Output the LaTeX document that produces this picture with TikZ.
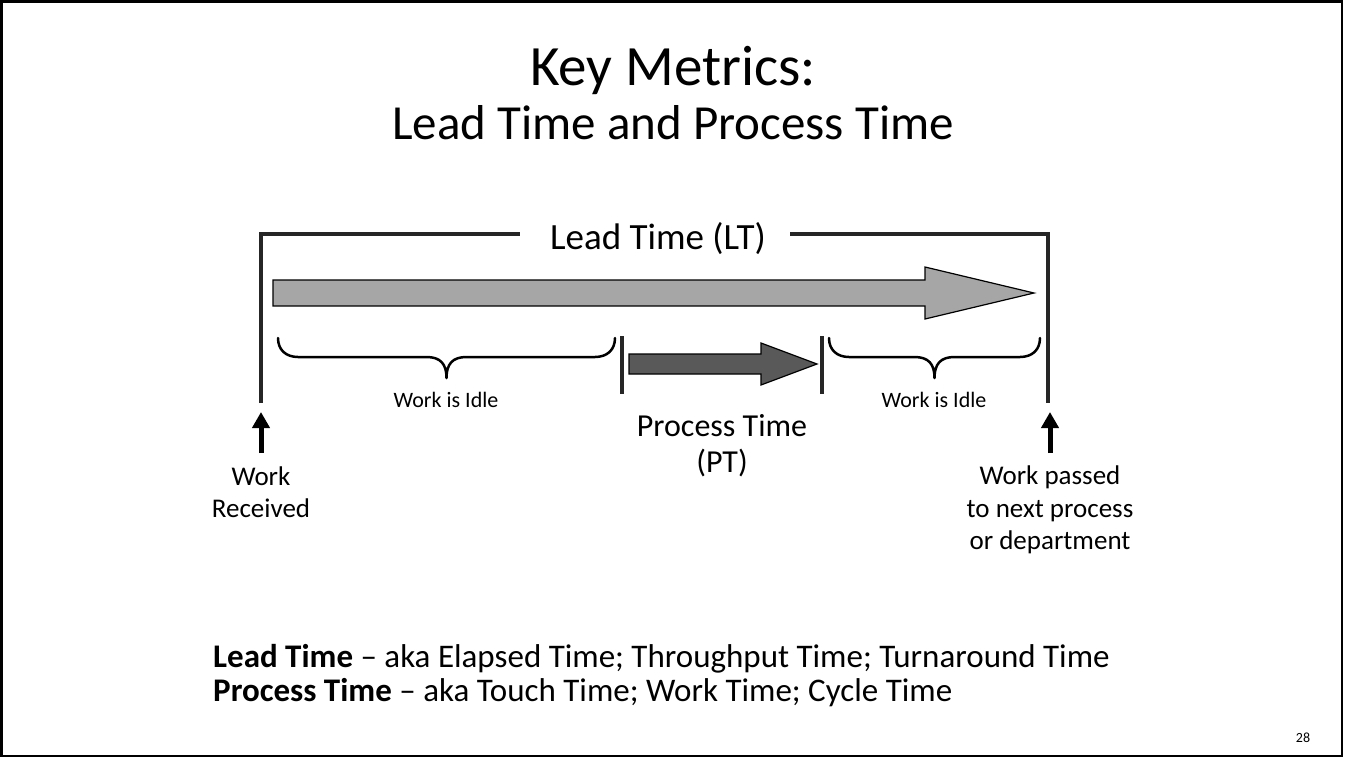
\documentclass[tikz,border=0pt]{standalone}
\usepackage{fontspec}
\setmainfont{Carlito}
\usetikzlibrary{arrows.meta}
\definecolor{barcol}{HTML}{262626}
\definecolor{ltfill}{HTML}{A6A6A6}
\definecolor{ptfill}{HTML}{595959}
\newcommand\fs[1]{\fontsize{#1}{#1}\selectfont}
\newcommand\idlebrace[2]{%
  \draw[brc] (#1,338) .. controls (#1,350) and ({#1+8},357) .. ({#1+20},357)
    -- ({(#1+#2)/2-20},357) .. controls ({(#1+#2)/2-6},357) and ({(#1+#2)/2},364) .. ({(#1+#2)/2},378)
    .. controls ({(#1+#2)/2},364) and ({(#1+#2)/2+6},357) .. ({(#1+#2)/2+20},357)
    -- ({#2-20},357) .. controls ({#2-8},357) and (#2,350) .. (#2,338);}
\begin{document}
\begin{tikzpicture}[x=1pt,y=-1pt,
  bar/.style={line width=4pt, draw=barcol, line join=miter},
  brc/.style={line width=2.5pt, draw=black, line join=round, line cap=round},
  lbl/.style={inner sep=0pt, anchor=base, text=black},
  uparrow/.style={line width=5pt, draw=black, -{Triangle[width=17pt,length=16pt]}},
  bigarrow/.style={line width=1.2pt, draw=black, line join=miter}
]
\useasboundingbox (0,0) rectangle (1347,758);
\draw[line width=2.5pt] (1.5,1.5) rectangle (1342,756);

% titles
\node[lbl, font=\fs{57}] (title) at (673,85) {Key Metrics:};
\node[lbl, font=\fs{49}] (subtitle) at (673,139) {Lead Time and Process Time};

% lead time bracket
\node[lbl, font=\fs{37}] (ltlabel) at (658,249) {Lead Time (LT)};
\draw[bar] (261,403) |- (520,234);
\draw[bar] (790,234) -| (1048,403);

% gray arrow
\draw[bigarrow, fill=ltfill] (273,280) -- (925,280) -- (925,267) -- (1034,293) -- (925,319) -- (925,306) -- (273,306) -- cycle;

% separators
\draw[bar] (622,336) -- (622,394);
\draw[bar] (822,336) -- (822,394);

% process time arrow
\draw[bigarrow, fill=ptfill] (629,354) -- (761,354) -- (761,343) -- (817,364) -- (761,385) -- (761,374) -- (629,374) -- cycle;

% braces
\idlebrace{278}{615}
\idlebrace{829}{1040}
\node[lbl, font=\fs{22}] (idle1) at (446,407) {Work is Idle};
\node[lbl, font=\fs{22}] (idle2) at (934,407) {Work is Idle};

% process time label
\node[lbl, font=\fs{32}] (pt1) at (722,436) {Process Time};
\node[lbl, font=\fs{32}] (pt2) at (722,472) {(PT)};

% up arrows
\coordinate (lbase) at (261,453);
\coordinate (ltip) at (261,412);
\coordinate (rbase) at (1050,453);
\coordinate (rtip) at (1050,412);
\draw[uparrow] (lbase) -- (ltip);
\draw[uparrow] (rbase) -- (rtip);

\node[lbl, font=\fs{27}] (recvA) at (261,485) {Work};
\node[lbl, font=\fs{27}] (recvB) at (261,517) {Received};
\node[lbl, font=\fs{27}] (passA) at (1050,484) {Work passed};
\node[lbl, font=\fs{27}] (passB) at (1050,517) {to next process};
\node[lbl, font=\fs{27}] (passC) at (1050,549) {or department};

% definitions
\node[lbl, anchor=base west, font=\fs{33}] (defLT) at (213,667) {\textbf{Lead Time} – aka Elapsed Time; Throughput Time; Turnaround Time};
\node[lbl, anchor=base west, font=\fs{33}] (defPT) at (213,701) {\textbf{Process Time} – aka Touch Time; Work Time; Cycle Time};

% page number
\node[lbl, font=\fs{14}] (pg) at (1303,742) {28};
\end{tikzpicture}
\end{document}
